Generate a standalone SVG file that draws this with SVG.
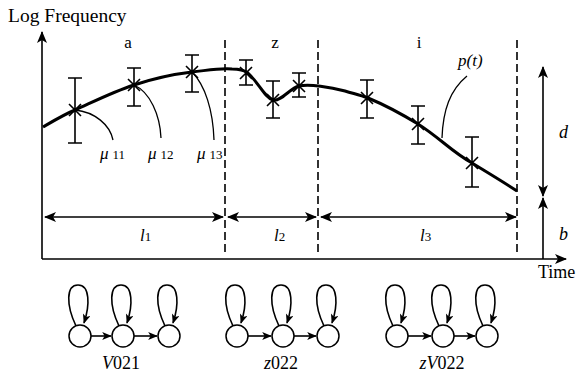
<svg xmlns="http://www.w3.org/2000/svg" width="579" height="374" viewBox="0 0 579 374" font-family="'Liberation Serif', 'DejaVu Serif', serif">
<defs>
<marker id="ah" viewBox="0 0 12 10" refX="11" refY="5" markerWidth="12" markerHeight="10" markerUnits="userSpaceOnUse" orient="auto-start-reverse">
<path d="M0,0 L12,5 L0,10 L3,5 Z" fill="#000"/>
</marker>
<marker id="ahs" viewBox="0 0 12 10" refX="11" refY="5" markerWidth="10" markerHeight="8" markerUnits="userSpaceOnUse" orient="auto-start-reverse">
<path d="M0,0 L12,5 L0,10 L3,5 Z" fill="#000"/>
</marker>
</defs>
<style>
text{font-family:'Liberation Serif','DejaVu Serif',serif;fill:#000}
.ax{stroke:#000;stroke-width:1.6;fill:none}
.dash{stroke:#000;stroke-width:1.6;stroke-dasharray:8 4;fill:none}
.curve{stroke:#000;stroke-width:3;fill:none}
.thin{stroke:#000;stroke-width:1.3;fill:none}
.eb{stroke:#000;stroke-width:1.6;fill:none}
.st{stroke:#000;stroke-width:1.5;fill:#fff}
.it{font-style:italic}
</style>

<g id="axes">
<path class="ax" d="M42,259 V32" marker-end="url(#ah)"/>
<path class="ax" d="M42,259 H566" marker-end="url(#ah)"/>
<text x="8" y="22" font-size="19.5">Log Frequency</text>
<text x="538" y="278" font-size="18">Time</text>
</g>

<g id="boundaries">
<path class="dash" d="M225,40 V253"/>
<path class="dash" d="M318,40 V253"/>
<path class="dash" d="M517,40 V253"/>
<text x="128" y="48" font-size="17" text-anchor="middle">a</text>
<text x="275" y="48" font-size="17" text-anchor="middle">z</text>
<text x="419" y="48" font-size="17" text-anchor="middle">i</text>
</g>

<g id="curve">
<path class="curve" d="M43,127 C55,120 65,114 75,110 C95,101 115,91 134,85 C155,78 175,74 192,72 C210,70 220,68 232,69 C240,69 244,70 248,73 C258,82 265,98 273,100 C281,102 290,88 299,86 C310,84 330,87 345,91 C355,94 360,95 368,98 C385,105 400,113 418,124 C440,138 452,152 472,163 C490,174 505,183 517,191"/>
</g>

<g id="errorbars">
<g id="m1"><path class="eb" d="M75,78 V143 M68,78 H82 M68,143 H82 M69,104 L81,116 M69,116 L81,104"/></g>
<g id="m2"><path class="eb" d="M134,68 V106 M127,68 H141 M127,106 H141 M128,79 L140,91 M128,91 L140,79"/></g>
<g id="m3"><path class="eb" d="M192,55 V92 M185,55 H199 M185,92 H199 M186,66 L198,78 M186,78 L198,66"/></g>
<g id="m4"><path class="eb" d="M246,60 V85 M239,60 H253 M239,85 H253 M240,67 L252,79 M240,79 L252,67"/></g>
<g id="m5"><path class="eb" d="M273,81 V118 M266,81 H280 M266,118 H280 M267,94 L279,106 M267,106 L279,94"/></g>
<g id="m6"><path class="eb" d="M299,73 V97 M292,73 H306 M292,97 H306 M293,80 L305,92 M293,92 L305,80"/></g>
<g id="m7"><path class="eb" d="M367,80 V118 M360,80 H374 M360,118 H374 M361,92 L373,104 M361,104 L373,92"/></g>
<g id="m8"><path class="eb" d="M418,106 V144 M411,106 H425 M411,144 H425 M412,118 L424,130 M412,130 L424,118"/></g>
<g id="m9"><path class="eb" d="M472,137 V187 M465,137 H479 M465,187 H479 M466,157 L478,169 M466,169 L478,157"/></g>
</g>

<g id="leaders">
<path class="thin" d="M75,110 C95,112 110,125 113,140"/>
<path class="thin" d="M134,85 C150,92 160,115 161,138"/>
<path class="thin" d="M192,72 C205,85 213,110 214,140"/>
<path class="thin" d="M467,76 C450,90 443,110 442,138"/>
<text x="100" y="159" font-size="17"><tspan class="it">μ</tspan><tspan font-size="13" dx="4">11</tspan></text>
<text x="148" y="159" font-size="17"><tspan class="it">μ</tspan><tspan font-size="13" dx="4">12</tspan></text>
<text x="197" y="159" font-size="17"><tspan class="it">μ</tspan><tspan font-size="13" dx="4">13</tspan></text>
<text x="458" y="66" font-size="17" class="it">p(t)</text>
</g>

<g id="dimensions">
<path class="ax" d="M45,217 H223" marker-start="url(#ah)" marker-end="url(#ah)"/>
<path class="ax" d="M228,217 H316" marker-start="url(#ah)" marker-end="url(#ah)"/>
<path class="ax" d="M321,217 H516" marker-start="url(#ah)" marker-end="url(#ah)"/>
<text x="140" y="241" font-size="17" class="it">l<tspan font-size="13" font-style="normal">1</tspan></text>
<text x="274" y="241" font-size="17" class="it">l<tspan font-size="13" font-style="normal">2</tspan></text>
<text x="420" y="241" font-size="17" class="it">l<tspan font-size="13" font-style="normal">3</tspan></text>
<path class="ax" d="M543,132 V67" marker-end="url(#ah)"/>
<path class="ax" d="M543,132 V196" marker-end="url(#ah)"/>
<path class="ax" d="M543,259 V198" marker-end="url(#ah)"/>
<text x="559" y="138" font-size="18" class="it">d</text>
<text x="559" y="240" font-size="18" class="it">b</text>
</g>

<g id="hmm-V021">
<path class="ax" d="M76,326 C66,305 66,285 78,285 C90,285 90,305 84,323" marker-end="url(#ahs)"/>
<path class="ax" d="M119,326 C109,305 109,285 121,285 C133,285 133,305 127,323" marker-end="url(#ahs)"/>
<path class="ax" d="M165,326 C155,305 155,285 167,285 C179,285 179,305 173,323" marker-end="url(#ahs)"/>
<circle class="st" cx="80" cy="336" r="11"/>
<circle class="st" cx="123" cy="336" r="11"/>
<circle class="st" cx="169" cy="336" r="11"/>
<path class="ax" d="M91,336 H111" marker-end="url(#ahs)"/>
<path class="ax" d="M134,336 H157" marker-end="url(#ahs)"/>
<text x="121" y="369" font-size="18" text-anchor="middle"><tspan class="it">V</tspan>021</text>
</g>

<g id="hmm-z022">
<path class="ax" d="M233,326 C223,305 223,285 235,285 C247,285 247,305 241,323" marker-end="url(#ahs)"/>
<path class="ax" d="M279,326 C269,305 269,285 281,285 C293,285 293,305 287,323" marker-end="url(#ahs)"/>
<path class="ax" d="M324,326 C314,305 314,285 326,285 C338,285 338,305 332,323" marker-end="url(#ahs)"/>
<circle class="st" cx="237" cy="336" r="11"/>
<circle class="st" cx="283" cy="336" r="11"/>
<circle class="st" cx="328" cy="336" r="11"/>
<path class="ax" d="M248,336 H271" marker-end="url(#ahs)"/>
<path class="ax" d="M294,336 H316" marker-end="url(#ahs)"/>
<text x="281" y="369" font-size="18" text-anchor="middle"><tspan class="it">z</tspan>022</text>
</g>

<g id="hmm-zV022">
<path class="ax" d="M393,326 C383,305 383,285 395,285 C407,285 407,305 401,323" marker-end="url(#ahs)"/>
<path class="ax" d="M439,326 C429,305 429,285 441,285 C453,285 453,305 447,323" marker-end="url(#ahs)"/>
<path class="ax" d="M483,326 C473,305 473,285 485,285 C497,285 497,305 491,323" marker-end="url(#ahs)"/>
<circle class="st" cx="397" cy="336" r="11"/>
<circle class="st" cx="443" cy="336" r="11"/>
<circle class="st" cx="487" cy="336" r="11"/>
<path class="ax" d="M408,336 H431" marker-end="url(#ahs)"/>
<path class="ax" d="M454,336 H475" marker-end="url(#ahs)"/>
<text x="442" y="369" font-size="18" text-anchor="middle"><tspan class="it">zV</tspan>022</text>
</g>
</svg>
